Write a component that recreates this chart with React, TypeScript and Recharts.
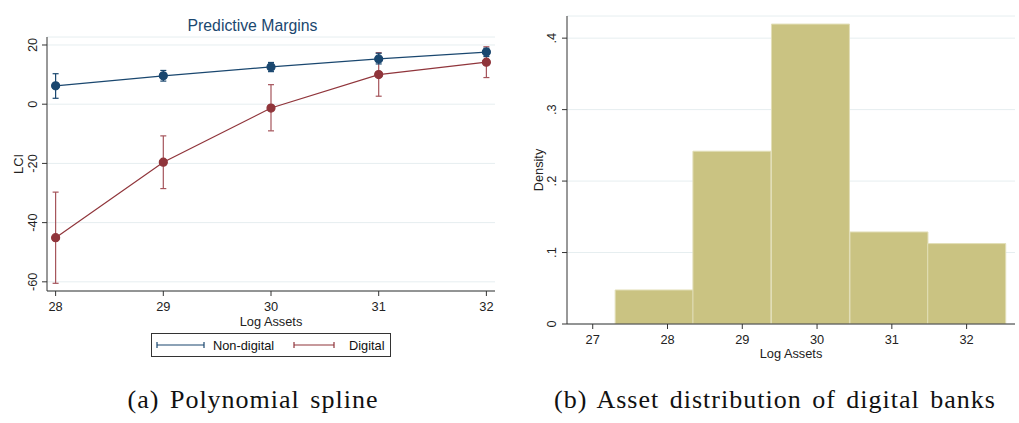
import {
  Bar,
  CartesianGrid,
  ComposedChart,
  ErrorBar,
  Label,
  Legend,
  Line,
  XAxis,
  YAxis
} from "recharts";

// panel (a): predictive margins of LCI by log assets
const logAssets = [28, 29, 30, 31, 32];
const nonDigital = [6.2, 9.6, 12.6, 15.3, 17.6];
const nonDigitalLow = [2.0, 7.8, 11.0, 13.6, 16.1];
const nonDigitalHigh = [10.3, 11.4, 14.1, 17.2, 18.9];
const digital = [-45.1, -19.6, -1.3, 10.0, 14.2];
const digitalLow = [-60.5, -28.5, -9.0, 2.7, 9.0];
const digitalHigh = [-29.7, -10.7, 6.6, 17.4, 19.4];
const lciTicks = [-60, -40, -20, 0, 20];

// panel (b): histogram of log assets for digital banks
const binMids = [27.82, 28.86, 29.91, 30.96, 32.0];
const density = [0.0476, 0.2418, 0.4197, 0.1288, 0.1125];
const assetTicks = [27, 28, 29, 30, 31, 32];
const densityTicks = [0, 0.1, 0.2, 0.3, 0.4];

const marginsData = logAssets.map((x, i) => ({
  x,
  nd: nonDigital[i],
  ndErr: [nonDigital[i] - nonDigitalLow[i], nonDigitalHigh[i] - nonDigital[i]],
  dg: digital[i],
  dgErr: [digital[i] - digitalLow[i], digitalHigh[i] - digital[i]]
}));

const histData = binMids.map((x, i) => ({ x, d: density[i] }));

const NAVY = "#1a476f";
const MAROON = "#90353b";
const GRID = "#e6eef0";
const FONT = "'Liberation Sans', Arial, sans-serif";
const FS = 12.8;

function YTick({ x, y, payload, fmt }: any) {
  return (
    <text
      x={x}
      y={y}
      transform={`rotate(-90, ${x}, ${y})`}
      textAnchor="middle"
      fontSize={FS}
      fontFamily={FONT}
      fill="#222"
    >
      {fmt(payload.value)}
    </text>
  );
}

function RotLabel({ viewBox, text, dx }: any) {
  const cx = viewBox.x + dx;
  const cy = viewBox.y + viewBox.height / 2;
  return (
    <text
      x={cx}
      y={cy}
      transform={`rotate(-90, ${cx}, ${cy})`}
      textAnchor="middle"
      fontSize={FS}
      fontFamily={FONT}
      fill="#222"
    >
      {text}
    </text>
  );
}

function CapLine({ color, w }: { color: string; w: number }) {
  return (
    <svg width={w} height={10} style={{ display: "block", flex: "none" }}>
      <line x1={1} y1={5} x2={w - 1} y2={5} stroke={color} strokeWidth={1.2} />
      <line x1={1} y1={2} x2={1} y2={8} stroke={color} strokeWidth={1.2} />
      <line x1={w - 1} y1={2} x2={w - 1} y2={8} stroke={color} strokeWidth={1.2} />
    </svg>
  );
}

function MarginsLegend() {
  return (
    <div
      style={{
        position: "relative",
        boxSizing: "border-box",
        border: "1px solid #333",
        width: 240,
        height: 24,
        fontFamily: FONT,
        fontSize: FS,
        color: "#111",
        background: "#fff",
        whiteSpace: "nowrap"
      }}
    >
      <div style={{ position: "absolute", left: 4, top: 6 }}>
        <CapLine color={NAVY} w={49} />
      </div>
      <span style={{ position: "absolute", left: 61, top: 4 }}>Non-digital</span>
      <div style={{ position: "absolute", left: 141, top: 6 }}>
        <CapLine color={MAROON} w={42} />
      </div>
      <span style={{ position: "absolute", left: 197, top: 4 }}>Digital</span>
    </div>
  );
}

const caption: React.CSSProperties = {
  position: "absolute",
  top: 385,
  fontFamily: "'Liberation Serif', 'DejaVu Serif', serif",
  fontSize: 26,
  letterSpacing: 1.0,
  wordSpacing: 3,
  color: "#111",
  textAlign: "center",
  whiteSpace: "nowrap"
};

export default function App() {
  return (
    <div style={{ position: "absolute", left: 0, top: 0, width: 1019, height: 423, background: "#fff" }}>
      <div style={{ position: "absolute", left: 0, top: 0 }}>
        <div
          style={{
            position: "absolute",
            left: 0,
            width: 505,
            top: 17,
            textAlign: "center",
            fontFamily: FONT,
            fontSize: 15.8,
            color: NAVY
          }}
        >
          Predictive Margins
        </div>
        <ComposedChart
          width={510}
          height={370}
          data={marginsData}
          margin={{ top: 37, right: 15, bottom: 45, left: 0 }}
        >
          <CartesianGrid horizontal vertical={false} stroke={GRID} />
          <XAxis
            dataKey="x"
            type="number"
            domain={[27.92, 32.08]}
            ticks={logAssets}
            allowDataOverflow
            height={34}
            tickSize={5}
            tickMargin={6}
            stroke="#333"
            tick={{ fill: "#222", fontSize: FS, fontFamily: FONT }}
          >
            <Label
              value="Log Assets"
              position="insideBottom"
              offset={-1}
              style={{ fill: "#222", fontSize: FS, fontFamily: FONT }}
            />
          </XAxis>
          <YAxis
            type="number"
            domain={[-63.1, 22.7]}
            ticks={lciTicks}
            allowDataOverflow
            width={47}
            tickSize={5}
            tickMargin={5}
            stroke="#333"
            tick={<YTick fmt={(v: number) => String(v)} />}
          >
            <Label content={<RotLabel text="LCI" dx={23} />} />
          </YAxis>
          <Line
            dataKey="dg"
            stroke={MAROON}
            strokeWidth={1.2}
            dot={{ r: 4, fill: MAROON, stroke: MAROON }}
            isAnimationActive={false}
          >
            <ErrorBar dataKey="dgErr" width={3} stroke="#a5545b" strokeWidth={1.2} direction="y" />
          </Line>
          <Line
            dataKey="nd"
            stroke={NAVY}
            strokeWidth={1.2}
            dot={{ r: 4, fill: NAVY, stroke: NAVY }}
            isAnimationActive={false}
          >
            <ErrorBar dataKey="ndErr" width={3} stroke={NAVY} strokeWidth={1.2} direction="y" />
          </Line>
          <Legend
            verticalAlign="middle"
            align="center"
            layout="horizontal"
            wrapperStyle={{ left: 151, top: 333, width: 240 }}
            content={<MarginsLegend />}
          />
        </ComposedChart>
      </div>

      <div style={{ position: "absolute", left: 510, top: 0 }}>
        <ComposedChart
          width={509}
          height={370}
          data={histData}
          barCategoryGap={0}
          barGap={0}
          margin={{ top: 16, right: 4, bottom: 12, left: 0 }}
        >
          <CartesianGrid horizontal vertical={false} stroke={GRID} />
          <XAxis
            dataKey="x"
            type="number"
            domain={[26.656, 32.647]}
            ticks={assetTicks}
            allowDataOverflow
            height={34}
            tickSize={5}
            tickMargin={6}
            stroke="#333"
            tick={{ fill: "#222", fontSize: FS, fontFamily: FONT }}
          >
            <Label
              value="Log Assets"
              position="insideBottom"
              offset={0}
              style={{ fill: "#222", fontSize: FS, fontFamily: FONT }}
            />
          </XAxis>
          <YAxis
            type="number"
            domain={[0, 0.431]}
            ticks={densityTicks}
            allowDataOverflow
            width={57}
            tickSize={5}
            tickMargin={6}
            stroke="#333"
            tick={<YTick fmt={(v: number) => (v === 0 ? "0" : String(v).replace(/^0/, ""))} />}
          >
            <Label content={<RotLabel text="Density" dx={33} />} />
          </YAxis>
          <Bar dataKey="d" fill="#cac382" stroke="#e2dfb8" strokeWidth={1} isAnimationActive={false} />
        </ComposedChart>
      </div>

      <div style={{ ...caption, left: 0, width: 506 }}>(a) Polynomial spline</div>
      <div style={{ ...caption, left: 510, width: 530 }}>(b) Asset distribution of digital banks</div>
    </div>
  );
}
